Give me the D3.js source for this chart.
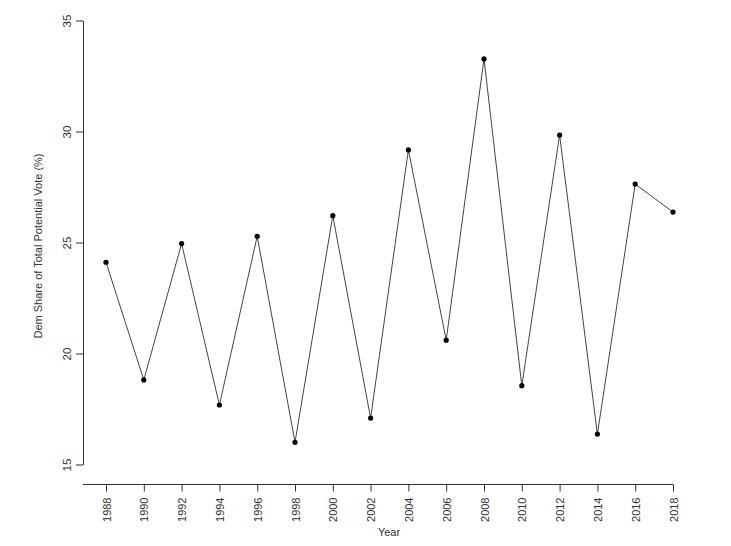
<!DOCTYPE html>
<html>
<head>
<meta charset="utf-8">
<script src="https://cdn.jsdelivr.net/npm/d3@7"></script>
<style>
  html, body { margin: 0; padding: 0; background: #fff; }
  svg { display: block; }
  text { font-family: "Liberation Sans", Arial, sans-serif; }
</style>
</head>
<body>
<svg id="chart" width="731" height="546"></svg>
<script>
const years = [1988, 1990, 1992, 1994, 1996, 1998, 2000, 2002, 2004, 2006, 2008, 2010, 2012, 2014, 2016, 2018];
const demShare = [24.11, 18.81, 24.95, 17.68, 25.28, 16.0, 26.21, 17.09, 29.17, 20.6, 33.27, 18.55, 29.84, 16.37, 27.63, 26.37];
const yTicks = [15, 20, 25, 30, 35];
const xTicks = years;
const xTitle = "Year";
const yTitle = "Dem Share of Total Potential Vote (%)";

const svg = d3.select("#chart");
const x = d3.scaleLinear().domain([1988, 2018]).range([106, 673]);
const y = d3.scaleLinear().domain([15, 35]).range([464.5, 20.5]);

const axisColor = "#333";
const textColor = "#333";

// Y axis
const gy = svg.append("g").attr("transform", "translate(83,0)")
  .call(d3.axisLeft(y).tickValues(yTicks).tickSize(7).tickSizeOuter(0).tickFormat(d3.format("d")));
gy.select(".domain").attr("stroke", axisColor);
gy.selectAll(".tick line").attr("stroke", axisColor);
gy.selectAll(".tick text")
  .attr("fill", textColor).attr("font-size", 11.5)
  .attr("transform", "rotate(-90)")
  .attr("x", 0).attr("y", -12.5).attr("dy", 0)
  .attr("text-anchor", "middle");

// X axis
const gx = svg.append("g").attr("transform", "translate(0,484.5)")
  .call(d3.axisBottom(x).tickValues(xTicks).tickSize(7).tickSizeOuter(0).tickFormat(d3.format("d")));
gx.select(".domain").attr("stroke", axisColor).attr("d", "M83,0H" + x(2018));
gx.selectAll(".tick line").attr("stroke", axisColor);
gx.selectAll(".tick text")
  .attr("fill", textColor).attr("font-size", 11)
  .attr("transform", "rotate(-90)")
  .attr("x", -13).attr("y", 4).attr("dy", 0)
  .attr("text-anchor", "end");

// Titles
svg.append("text").attr("x", 389).attr("y", 536).attr("text-anchor", "middle")
  .attr("font-size", 11).attr("fill", textColor).text(xTitle);
svg.append("text").attr("transform", "translate(42,246) rotate(-90)").attr("text-anchor", "middle")
  .attr("font-size", 11).attr("fill", textColor).text(yTitle);

// Line
const data = years.map((yr, i) => ({ yr, v: demShare[i] }));
svg.append("path").datum(data)
  .attr("fill", "none").attr("stroke", "#444").attr("stroke-width", 1)
  .attr("d", d3.line().x(d => x(d.yr)).y(d => y(d.v)));

svg.append("g").selectAll("circle").data(data).join("circle")
  .attr("cx", d => x(d.yr)).attr("cy", d => y(d.v)).attr("r", 2.6).attr("fill", "#000");
</script>
</body>
</html>
